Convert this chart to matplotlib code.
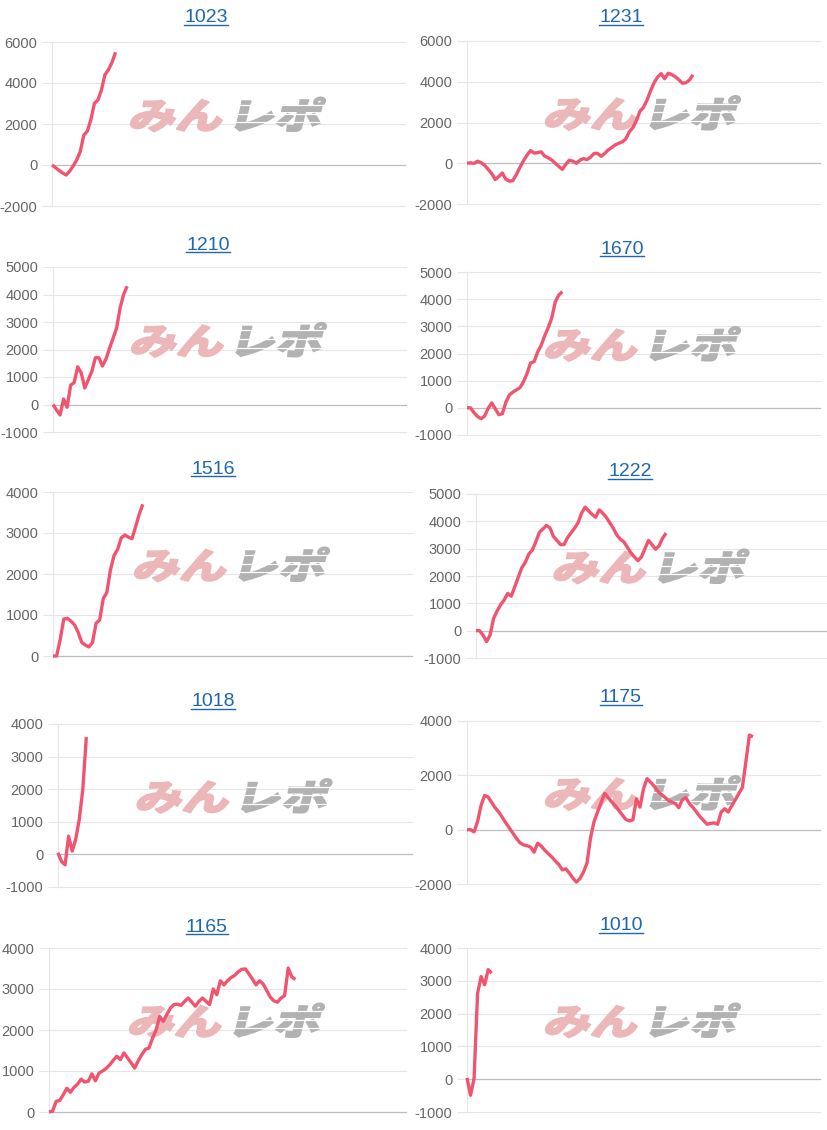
import numpy as np
import matplotlib
matplotlib.use("Agg")
import matplotlib.pyplot as plt
from matplotlib.textpath import TextPath
from matplotlib.patches import PathPatch
from matplotlib.font_manager import FontProperties
from matplotlib.transforms import Affine2D, IdentityTransform
from matplotlib.lines import Line2D

# ---------------- data ----------------
titles = ["1023", "1231", "1210", "1670", "1516", "1222", "1018", "1175", "1165", "1010"]

s1023 = [0, -130, -260, -390, -490, -300, -50, 250, 650, 1450, 1650, 2200, 3000, 3170,
         3650, 4400, 4650, 5000, 5500]
s1231 = [0, 20, -10, 100, 30, -100, -300, -500, -800, -650, -480, -780, -880, -850, -550,
         -200, 120, 400, 620, 500, 520, 560, 350, 270, 160, 0, -150, -300, -50, 150, 100, 0,
         150, 230, 180, 300, 480, 480, 340, 480, 650, 770, 900, 980, 1050, 1200, 1550, 1750,
         2100, 2550, 2750, 3100, 3550, 3950, 4230, 4400, 4150, 4420, 4350, 4250, 4100, 3930,
         3950, 4080, 4340]
s1210 = [0, -200, -380, 200, -100, 700, 800, 1370, 1150, 600, 900, 1200, 1700, 1700, 1400,
         1650, 2040, 2400, 2770, 3500, 4000, 4300]
s1670 = [0, 0, -180, -320, -400, -300, -20, 180, -30, -250, -220, 200, 470, 580, 660, 740,
         960, 1260, 1650, 1700, 2050, 2300, 2650, 2950, 3300, 3900, 4150, 4280]
s1516 = [0, 0, 400, 900, 920, 850, 760, 580, 330, 270, 220, 330, 800, 880, 1400, 1550, 2100,
         2450, 2600, 2880, 2950, 2900, 2860, 3150, 3450, 3700]
s1222 = [0, 0, -160, -400, -160, 450, 720, 950, 1120, 1360, 1260, 1600, 1950, 2300, 2500,
         2800, 2950, 3250, 3600, 3720, 3850, 3760, 3450, 3300, 3150, 3150, 3400, 3580, 3750,
         3950, 4300, 4520, 4380, 4250, 4150, 4420, 4300, 4150, 3950, 3750, 3500, 3350, 3250,
         3050, 2850, 2700, 2560, 2700, 3000, 3300, 3150, 2980, 3100, 3380, 3570]
s1018 = [50, -220, -320, 560, 100, 460, 1070, 1980, 3600]
s1175 = [0, 0, -80, 300, 900, 1260, 1200, 1000, 800, 650, 450, 250, 60, -130, -320, -480,
         -560, -590, -640, -830, -500, -600, -750, -880, -1000, -1150, -1280, -1480, -1440,
         -1600, -1780, -1930, -1800, -1560, -1230, -300, 300, 650, 1000, 1330, 1180, 1020, 880,
         710, 540, 380, 320, 360, 1140, 830, 1500, 1880, 1750, 1600, 1420, 1300, 1200, 1080,
         1020, 960, 810, 1100, 1180, 960, 820, 650, 480, 340, 200, 230, 250, 200, 650, 770,
         650, 880, 1100, 1330, 1550, 2500, 3480, 3420]
s1165 = [0, 20, 260, 280, 420, 580, 480, 600, 680, 800, 730, 750, 930, 760, 950, 1000, 1060,
         1150, 1260, 1360, 1280, 1440, 1320, 1200, 1070, 1250, 1400, 1530, 1560, 1800, 2000,
         2330, 2210, 2380, 2530, 2620, 2630, 2600, 2700, 2780, 2680, 2580, 2700, 2780, 2700,
         2620, 3000, 2860, 3200, 3100, 3200, 3280, 3330, 3420, 3480, 3490, 3370, 3240, 3100,
         3200, 3120, 2960, 2800, 2710, 2680, 2780, 2840, 3510, 3300, 3230]
s1010 = [40, -490, 20, 2620, 3130, 2880, 3340, 3230]

series = [s1023, s1231, s1210, s1670, s1516, s1222, s1018, s1175, s1165, s1010]

y_min = [-2000, -2000, -1000, -1000, 0, -1000, -1000, -2000, 0, -1000]
y_max = [6000, 6000, 5000, 5000, 4000, 5000, 4000, 4000, 4000, 4000]
y_step = [2000, 2000, 1000, 1000, 1000, 1000, 1000, 2000, 1000, 1000]
x_span = 100

# ---------------- layout (pixels) ----------------
W, H = 828, 1130
ax_left = [52, 467, 53, 467, 53, 476, 58, 467, 49, 467]
ax_right = [405, 820, 406, 820, 412, 828, 412, 820, 406, 820]
ax_top = [42, 41, 267, 272, 492, 494, 724, 721, 948, 948]
ax_bottom = [206, 204, 432, 435, 656, 658, 887, 884, 1112, 1112]
title_x = [206, 621, 208, 622, 213, 630, 213, 621, 207, 621]
title_y = [18, 18, 245, 249, 469, 472, 702, 698, 927, 926]

LINE_COLOR = "#f0546f"
GRID_COLOR = "#e6e6e6"
ZERO_COLOR = "#bdbdbd"
TICK_COLOR = "#666666"
TITLE_COLOR = "#1f68b0"
PINK = "#ebb7b9"
GREY = "#b2b2b2"

plt.rcParams["font.family"] = ["Liberation Sans", "DejaVu Sans"]

fig = plt.figure(figsize=(W / 100, H / 100), dpi=100)
fig.patch.set_facecolor("white")

fp_logo = FontProperties(family="Noto Sans CJK JP", weight="black")
p_min = TextPath((0, 0), "みん", size=1, prop=fp_logo)
p_repo = TextPath((0, 0), "レポ", size=1, prop=fp_logo)

title_texts = []
for i, vals in enumerate(series):
    l, r, t, b = ax_left[i], ax_right[i], ax_top[i], ax_bottom[i]
    ax = fig.add_axes([l / W, 1 - b / H, (r - l) / W, (b - t) / H])
    ax.set_xlim(0, x_span)
    ax.set_ylim(y_min[i], y_max[i])
    ticks = np.arange(y_min[i], y_max[i] + 1, y_step[i])
    ax.set_yticks(ticks)
    ax.set_yticklabels([str(int(v)) for v in ticks])
    ax.set_xticks([])
    for sp in ["top", "right", "bottom"]:
        ax.spines[sp].set_visible(False)
    ax.spines["left"].set_color(GRID_COLOR)
    ax.spines["left"].set_linewidth(0.8)
    ax.tick_params(axis="y", length=7.5, width=0.8, color=GRID_COLOR, pad=3,
                   labelsize=10.5, labelcolor=TICK_COLOR)
    for v in ticks:
        ax.axhline(v, color=ZERO_COLOR if v == 0 else GRID_COLOR, lw=0.9 if v == 0 else 0.8,
                   zorder=1, clip_on=False)

    # watermark logo
    cx = (l + r) / 2
    cy = H - (b - 0.55 * (b - t))
    sx, sy = 47, 36
    x0 = cx - 101
    base = cy - 13
    tr1 = Affine2D().scale(sx, sy).skew_deg(14, 0).translate(x0, base)
    tr2 = Affine2D().scale(sx, sy).skew_deg(14, 0).translate(x0 + 99, base)
    pp1 = PathPatch(p_min, facecolor=PINK, edgecolor=PINK, lw=1.2, transform=tr1, zorder=2,
                    clip_on=False)
    pp2 = PathPatch(p_repo, facecolor=GREY, edgecolor=GREY, lw=1.2, transform=tr2, zorder=2,
                    clip_on=False)
    ax.add_patch(pp1)
    ax.add_patch(pp2)
    # speed-line slits across the grey part
    for fy in (0.18, 0.42, 0.66):
        yy = base + fy * sy
        ax.add_line(Line2D([x0 + 97, x0 + 200], [yy, yy], color="white", lw=0.9,
                           transform=IdentityTransform(), zorder=2.1, clip_on=False))

    ax.plot(np.arange(len(vals)), vals, color=LINE_COLOR, lw=2.4, zorder=3,
            solid_joinstyle="round", solid_capstyle="butt", clip_on=False)

    tt = fig.text(title_x[i] / W, 1 - title_y[i] / H, titles[i], ha="center", va="center",
                  fontsize=14, color=TITLE_COLOR)
    title_texts.append(tt)

fig.canvas.draw()
renderer = fig.canvas.get_renderer()
for tt in title_texts:
    bb = tt.get_window_extent(renderer)
    yline = bb.y0 + 1.5
    fig.add_artist(Line2D([bb.x0 / W, bb.x1 / W], [yline / H, yline / H],
                          color=TITLE_COLOR, lw=1.0, transform=fig.transFigure))

fig.savefig("out.png", dpi=100, facecolor="white")
